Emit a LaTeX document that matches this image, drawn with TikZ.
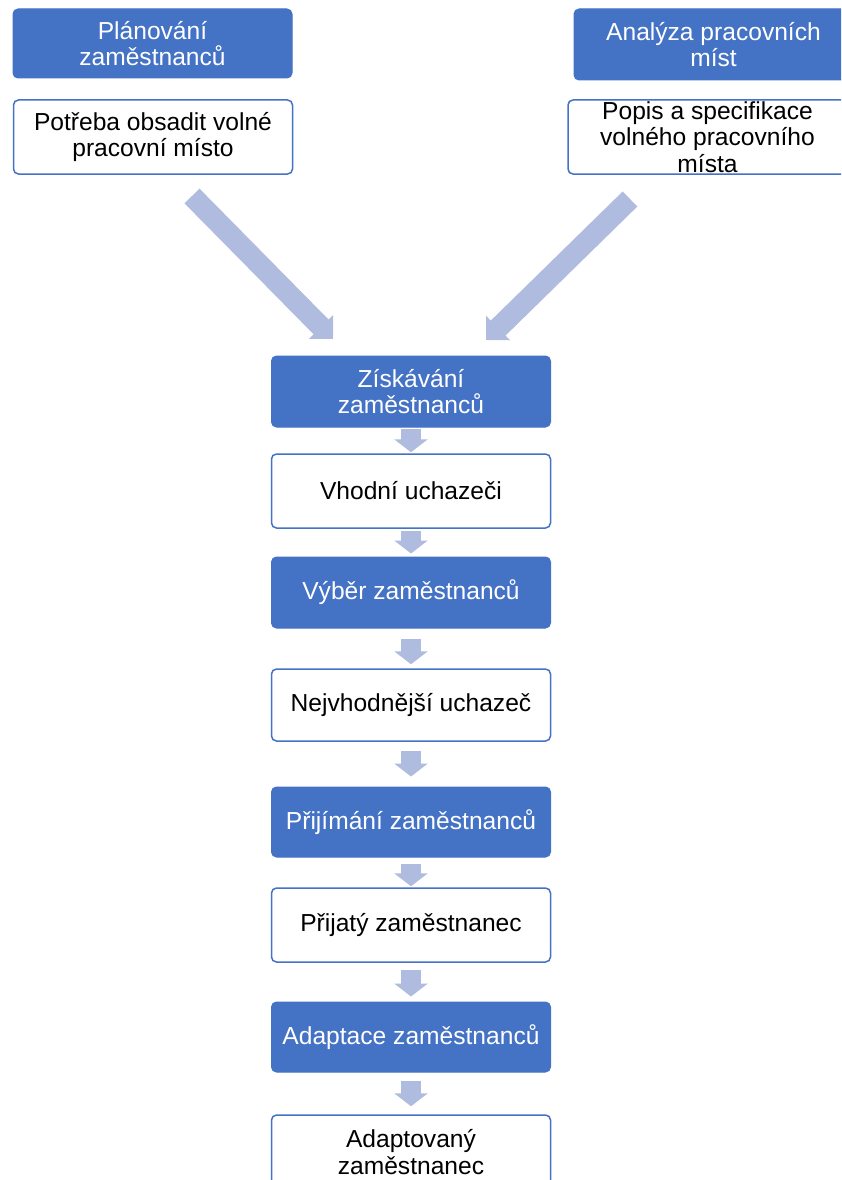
\documentclass[tikz,border=0pt]{standalone}
\usepackage{fontspec}
\setmainfont{Liberation Sans}
\usetikzlibrary{arrows.meta}
\definecolor{boxblue}{HTML}{4472C4}
\definecolor{arrowblue}{HTML}{AFBCDF}
\begin{document}
\begin{tikzpicture}[x=1pt,y=-1pt,
  boxfont/.style={font=\fontsize{24.6}{26.5}\selectfont},
  bluebox/.style={boxfont, fill=boxblue, draw=boxblue, rounded corners=5pt, text=white, align=center, inner sep=0pt, line width=1pt, minimum width=279pt},
  whitebox/.style={boxfont, fill=white, draw=boxblue, rounded corners=5pt, text=black, align=center, inner sep=0pt, line width=1.5pt, minimum width=279pt},
  bigarrow/.style={draw=arrowblue, line width=21pt, -{Triangle[width=33pt,length=17pt]}},
  smallarrow/.style={draw=arrowblue, line width=20pt, -{Triangle[width=33pt,length=13pt]}}]
\useasboundingbox (0,0) rectangle (841,1180);
\clip (0,0) rectangle (841,1180);

% top row
\node[bluebox, minimum height=69pt] (plan) at (152.5,43.5) {Plánování\\zaměstnanců};
\node[whitebox, minimum height=74pt] (potreba) at (153,137) {Potřeba obsadit volné\\pracovní místo};
\node[bluebox, minimum height=71pt] (analyza) at (713.5,44.5) {Analýza pracovních\\míst};
\node[whitebox, minimum height=74pt] (popis) at (707.5,137) {Popis a specifikace\\volného pracovního\\místa};

% central column
\node[bluebox, minimum height=71pt] (b1) at (411,391.5) {Získávání\\zaměstnanců};
\node[whitebox, minimum height=74pt] (w1) at (411,491) {Vhodní uchazeči};
\node[bluebox, minimum height=71pt] (b2) at (411,592.5) {Výběr zaměstnanců};
\node[whitebox, minimum height=72pt] (w2) at (411,705) {Nejvhodnější uchazeč};
\node[bluebox, minimum height=70pt] (b3) at (411,822) {Přijímání zaměstnanců};
\node[whitebox, minimum height=74pt] (w3) at (411,925) {Přijatý zaměstnanec};
\node[bluebox, minimum height=70pt] (b4) at (411,1037) {Adaptace zaměstnanců};
\node[whitebox, minimum height=74pt] (w4) at (411,1152) {Adaptovaný\\zaměstnanec};

% big diagonal arrows
\coordinate (la1) at (192,196);
\coordinate (la2) at (333,339);
\coordinate (ra1) at (630,199);
\coordinate (ra2) at (486,340);
\draw[bigarrow] (la1) -- (la2);
\draw[bigarrow] (ra1) -- (ra2);

% small vertical arrows
\draw[smallarrow] ([yshift=-1pt]b1.south) -- ([yshift=1pt]w1.north);
\draw[smallarrow] ([yshift=-2pt]w1.south) -- ([yshift=3pt]b2.north);
\draw[smallarrow] ([yshift=-10pt]b2.south) -- ([yshift=4pt]w2.north);
\draw[smallarrow] ([yshift=-9pt]w2.south) -- ([yshift=10pt]b3.north);
\draw[smallarrow] ([yshift=-6pt]b3.south) -- ([yshift=1pt]w3.north);
\draw[smallarrow] ([yshift=-7pt]w3.south) -- ([yshift=5pt]b4.north);
\draw[smallarrow] ([yshift=-8pt]b4.south) -- ([yshift=8pt]w4.north);
\end{tikzpicture}
\end{document}
